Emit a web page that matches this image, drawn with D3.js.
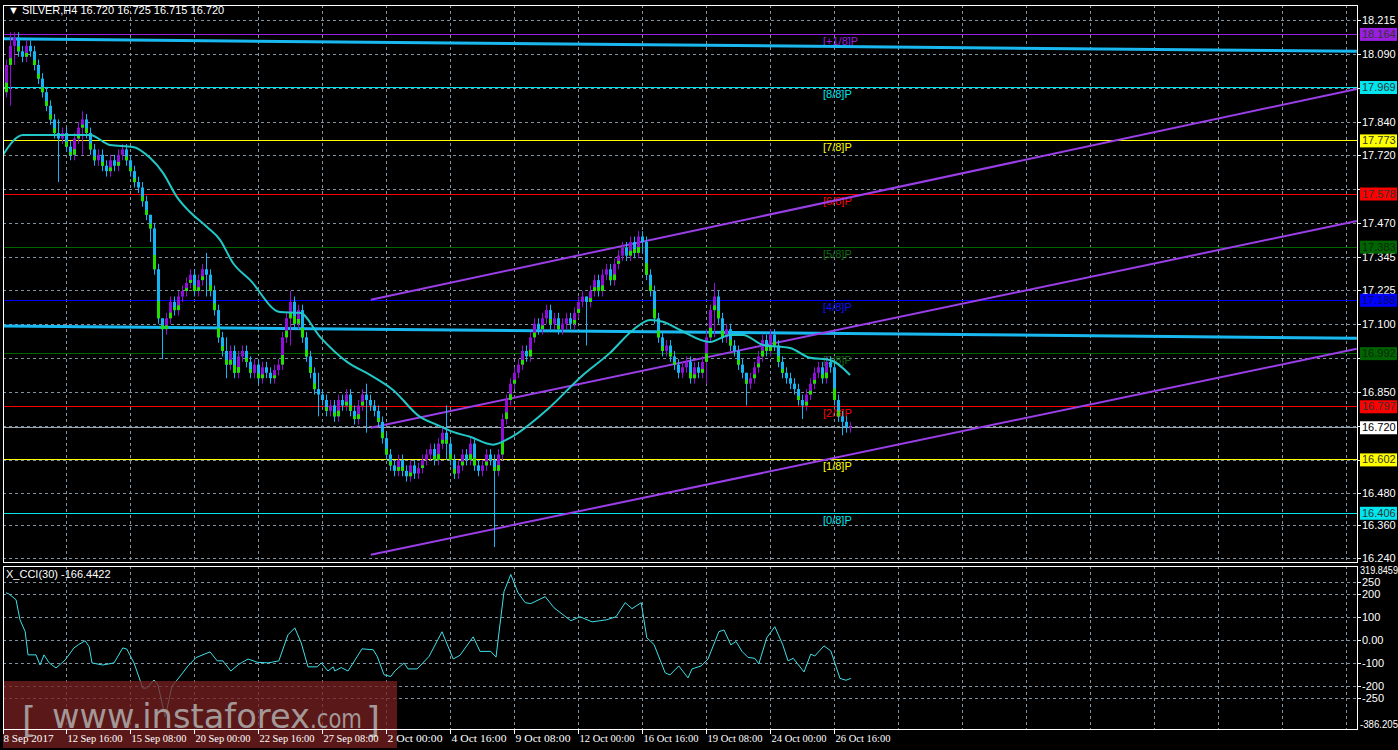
<!DOCTYPE html>
<html><head><meta charset="utf-8">
<script src="https://cdn.jsdelivr.net/npm/d3@7"></script>
<style>body{margin:0;background:#000}svg{display:block}</style>
</head><body>
<script>
// closes per H4 bar (open = previous close)
const closes = [18.05,18.12,18.15,18.10,18.08,18.12,18.10,18.05,18.00,17.95,17.90,
  17.85,17.80,17.78,17.80,
  17.75,17.72,17.78,17.82,17.85,17.80,17.74,17.70,17.72,17.68,
  17.66,17.70,17.68,17.72,17.74,17.70,17.66,17.62,17.60,
  17.55,17.50,17.45,17.30,17.12,17.08,
  17.12,17.18,17.15,17.20,17.22,17.25,17.28,17.22,17.26,
  17.30,17.28,17.22,17.15,17.05,17.00,
  16.95,17.00,16.92,16.98,17.00,16.96,16.92,16.95,16.90,16.94,16.92,16.90,16.93,16.95,
  17.05,17.12,17.18,17.10,17.15,
  17.05,16.98,16.92,16.86,16.84,16.82,
  16.78,16.80,16.76,16.82,16.80,16.84,16.78,16.75,16.80,16.84,16.82,16.80,16.78,16.74,
  16.68,16.62,16.58,16.56,16.60,
  16.56,16.54,16.58,16.55,16.57,16.60,16.62,16.64,16.60,16.66,
  16.70,16.66,16.60,16.55,16.58,
  16.62,16.60,16.66,16.58,16.56,16.58,16.62,16.60,16.56,
  16.62,16.75,16.82,16.88,16.92,16.95,
  17.00,16.98,17.05,17.10,17.08,17.12,17.15,
  17.10,17.12,17.08,17.10,17.12,17.10,17.14,17.18,17.20,
  17.18,17.22,17.26,17.22,17.28,17.30,17.26,17.32,17.35,17.38,
  17.35,17.40,17.36,17.42,17.40,
  17.28,17.22,17.12,17.05,17.00,17.02,
  16.98,16.95,16.92,16.94,16.96,16.90,16.94,16.92,16.96,
  17.05,17.15,17.20,17.12,17.05,17.08,
  17.02,17.00,16.95,16.92,16.88,16.90,
  16.94,16.98,17.04,17.00,17.06,17.02,16.96,
  16.92,16.90,16.88,16.86,16.82,16.80,16.84,
  16.88,16.92,16.94,16.90,16.96,16.94,
  16.82,16.76,16.74,16.72,16.72];
const firstOpen = 17.95;
// notable long wicks [bar, high, low]
const wicks = [[1,18.17,17.90],[2,18.17,18.05],[13,17.85,17.62],[19,17.88,17.72],[36,17.50,17.40],
  [39,17.12,16.97],[50,17.36,17.20],[55,17.05,16.90],[71,17.22,17.02],[78,16.92,16.76],
  [90,16.88,16.70],[110,16.80,16.60],[122,16.62,16.28],[145,17.20,17.02],[159,17.44,17.36],
  [175,17.08,16.88],[177,17.25,17.05],[185,16.92,16.80],[199,16.84,16.75],[209,16.78,16.69]];

// moving average, [bar, price]
const maPoints = [[-0.75,17.720],[4.25,17.793],[21,17.793],[26,17.756],[31.75,17.749],[36,17.709],
  [39.25,17.654],[42.75,17.565],[46,17.510],[50.25,17.455],[53.5,17.408],[56.75,17.323],[61,17.261],
  [68.5,17.143],[73.5,17.140],[78.5,17.052],[85.25,16.960],[91,16.912],[96.75,16.857],[103.5,16.758],
  [107.75,16.729],[111.75,16.703],[116,16.685],[121.75,16.656],[126,16.681],[135.25,16.784],
  [144.25,16.912],[151,16.993],[156.75,17.077],[161,17.114],[164.25,17.107],[168.5,17.077],
  [176,17.033],[181,17.059],[184.25,17.059],[189.25,17.022],[196,17.011],[201,16.975],[206,16.967],[211,16.912]];

// CCI(30), [bar, value]
const cciPoints = [[0,204],[0.8,198],[2.5,174],[3.5,87],[4.8,35],[5.5,-65],[7.5,-65],[8.5,-109],[9.5,-65],
  [10.8,-100],[12.5,-122],[14.8,-87],[17,-35],[18.2,-20],[19.8,-4],[20.8,-30],[21.5,-100],[24.2,-109],
  [27,-100],[29.2,-35],[30.2,-40],[32,-100],[34.2,-209],[35.2,-209],[37,-174],[38,-196],[39.8,-335],
  [41.5,-200],[43.2,-165],[45.5,-113],[47.5,-77],[51,-52],[52.8,-91],[54.2,-91],[56.2,-135],[58.2,-106],
  [60.5,-83],[62.8,-97],[65.5,-100],[68.2,-91],[70.5,22],[72.2,52],[73.8,-13],[75.5,-117],[77.8,-117],
  [78.8,-100],[80.5,-135],[81.8,-117],[82.2,-135],[83.8,-120],[85.5,-135],[86.8,-100],[89,-39],[91.8,-43],
  [92.8,-71],[94.5,-151],[96.2,-159],[97.2,-135],[99.5,-100],[100.5,-126],[102.8,-126],[105.8,-71],
  [109,35],[111.8,-83],[113.5,-67],[116.8,13],[118.5,-50],[121.2,-50],[122.5,-75],[124.5,209],[126.2,283],
  [128,204],[129.8,161],[131.2,157],[134.8,187],[137,139],[141.2,83],[143.5,100],[146.5,78],[150.2,87],
  [152.5,100],[154.8,161],[156.5,135],[158.8,161],[160.2,9],[162,-20],[164.8,-143],[166,-152],[168.2,-113],
  [170.5,-165],[171.5,-126],[173.8,-113],[175.5,-83],[178.2,35],[179.5,43],[181.2,-22],[182.5,-7],[184,-50],
  [185.5,-76],[187.2,-80],[188.2,-104],[190.2,9],[192.2,57],[194.2,-22],[195.5,-91],[196.8,-80],[199.5,-139],
  [201.2,-62],[202.2,-70],[204.5,-26],[206.2,-48],[208.5,-167],[210,-175],[211.2,-167]];

const murreyNames = ["[+1/8]P","[8/8]P","[7/8]P","[6/8]P","[5/8]P","[4/8]P","[3/8]P","[2/8]P","[1/8]P","[0/8]P"];
const murreyVals = [18.164,17.969,17.773,17.578,17.383,17.188,16.992,16.797,16.602,16.406];
const murreyColors = ["#9a1ee0","#00e5ee","#ffff00","#ff0000","#006400","#0000ff","#006400","#ff0000","#ffff00","#00e5ee"];
const murreyText = ["#9a1ee0","#00e5ee","#ffff00","#ff0000","#0c6a0c","#1010ff","#0c6a0c","#ff0000","#ffff00","#00e5ee"];

const priceTicks = [18.215,18.090,17.965,17.840,17.720,17.595,17.470,17.345,17.225,17.100,16.975,16.850,16.725,16.600,16.480,16.360,16.240];
const priceTickLabels = ["18.215","18.090","","17.840","17.720","","17.470","17.345","17.225","17.100","","16.850","","","16.480","16.360","16.240"];
const cciTicks = [250,200,100,0,-100,-200,-250];
const cciTickLabels = ["250","200","100","0.00","-100","-200","-250"];

const timeBars = [0,15,31,47,63,79,95,111,127,143,159,175,191,207];
const timeLabels = ["8 Sep 2017","12 Sep 16:00","15 Sep 08:00","20 Sep 00:00","22 Sep 16:00","27 Sep 08:00","2 Oct 00:00","4 Oct 16:00","9 Oct 08:00","12 Oct 00:00","16 Oct 16:00","19 Oct 08:00","24 Oct 00:00","26 Oct 16:00"];

// two-point lines [bar0, price0, bar1, price1]
const thickLines = [[-1,18.146,337.7,18.100],[-1,17.092,337.7,17.047]];
const channel = [[91.2,17.188,337.7,17.962],[91.2,16.718,337.7,17.477],[91.2,16.252,337.7,17.008]];

const L = 3, R = 1357, T = 5, B = 562, CT = 566, CB = 729;
const svg = d3.select("body").append("svg").attr("width",1398).attr("height",750)
  .style("font-family","'Liberation Sans',sans-serif");
svg.append("rect").attr("width",1398).attr("height",750).attr("fill","#000");

const x = d3.scaleLinear().domain([0, 337.75]).range([6, R]);
const y = d3.scaleLinear().domain([16.240, 18.215]).range([558, 20]);
const yc = d3.scaleLinear().domain([-386.205, 319.8459]).range([CB, CT]);

svg.append("clipPath").attr("id","cm").append("rect").attr("x",L).attr("y",T).attr("width",R-L).attr("height",B-T);
const grid = "#8091a0";

// grid
const vg = d3.range(15, 338, 16);
[[T,B],[CT,CB]].forEach(([a,b]) => {
  svg.append("g").selectAll("line").data(vg).join("line")
    .attr("x1",d=>x(d)+.5).attr("x2",d=>x(d)+.5).attr("y1",a).attr("y2",b)
    .attr("stroke",grid).attr("stroke-dasharray","3,3");
});
svg.append("g").selectAll("line").data(priceTicks).join("line")
  .attr("x1",L).attr("x2",R).attr("y1",d=>Math.round(y(d))+.5).attr("y2",d=>Math.round(y(d))+.5)
  .attr("stroke",grid).attr("stroke-dasharray","3,3");
svg.append("g").selectAll("line").data(cciTicks).join("line")
  .attr("x1",L).attr("x2",R).attr("y1",d=>Math.round(yc(d))+.5).attr("y2",d=>Math.round(yc(d))+.5)
  .attr("stroke",grid).attr("stroke-dasharray","3,3");

const pg = svg.append("g").attr("clip-path","url(#cm)");
// murrey levels
pg.selectAll("line.m").data(murreyVals).join("line")
  .attr("x1",L).attr("x2",R).attr("y1",d=>Math.round(y(d))+.5).attr("y2",d=>Math.round(y(d))+.5)
  .attr("stroke",(d,i)=>murreyColors[i]);
pg.selectAll("text.m").data(murreyVals).join("text")
  .attr("x",823).attr("y",d=>y(d)+11).attr("font-size",11)
  .attr("fill",(d,i)=>murreyText[i]).text((d,i)=>murreyNames[i]);
// current price line
pg.append("line").attr("x1",L).attr("x2",R).attr("y1",Math.round(y(16.720))+.5).attr("y2",Math.round(y(16.720))+.5).attr("stroke","#9aa4ad");

pg.selectAll("line.t").data(thickLines).join("line")
  .attr("x1",d=>x(d[0])).attr("y1",d=>y(d[1])).attr("x2",d=>x(d[2])).attr("y2",d=>y(d[3]))
  .attr("stroke","#1ab8f0").attr("stroke-width",3);
pg.selectAll("line.c").data(channel).join("line")
  .attr("x1",d=>x(d[0])).attr("y1",d=>y(d[1])).attr("x2",d=>x(d[2])).attr("y2",d=>y(d[3]))
  .attr("stroke","#9a3ee8").attr("stroke-width",2);

// candles
const bars = closes.map((c,i) => {
  const o = i ? closes[i-1] : firstOpen;
  const w = wicks.find(k => k[0] === i);
  return {i, o, c, h: w ? w[1] : Math.max(o,c) + 0.02, l: w ? w[2] : Math.min(o,c) - 0.02};
});
const col = d => d.c >= d.o ? "#9010d8" : "#14b4f5";
pg.selectAll("line.w").data(bars).join("line")
  .attr("x1",d=>Math.round(x(d.i))+.5).attr("x2",d=>Math.round(x(d.i))+.5)
  .attr("y1",d=>y(d.h)).attr("y2",d=>y(d.l)).attr("stroke",col);
pg.selectAll("rect.b").data(bars).join("rect")
  .attr("x",d=>Math.round(x(d.i))-1).attr("width",3)
  .attr("y",d=>y(Math.max(d.o,d.c))).attr("height",d=>Math.max(1,Math.abs(y(d.o)-y(d.c))))
  .attr("fill",col);
// green lower part of bodies
pg.selectAll("rect.g").data(bars.filter(d => Math.abs(d.c-d.o) > 0.03)).join("rect")
  .attr("x",d=>Math.round(x(d.i))-1).attr("width",3)
  .attr("y",d=>y(Math.min(d.o,d.c)) - Math.abs(y(d.o)-y(d.c))*0.35).attr("height",d=>Math.abs(y(d.o)-y(d.c))*0.35)
  .attr("fill","#22e000");

// moving average
pg.append("path").datum(maPoints)
  .attr("d", d3.line().x(d=>x(d[0])).y(d=>y(d[1])).curve(d3.curveMonotoneX))
  .attr("fill","none").attr("stroke","#22c8c8").attr("stroke-width",2);

// CCI
svg.append("path").datum(cciPoints)
  .attr("d", d3.line().x(d=>x(d[0])).y(d=>yc(d[1])))
  .attr("fill","none").attr("stroke","#3ee0e8").attr("stroke-width",1);

// watermark
svg.append("rect").attr("x",3).attr("y",681).attr("width",394).attr("height",67).attr("fill","#7a2020").attr("opacity",0.75);
const wm = svg.append("g").attr("fill","#a39898").attr("font-family","'DejaVu Sans',sans-serif");
wm.append("text").attr("x",22).attr("y",732).attr("font-size",36).text("[");
wm.append("text").attr("x",52).attr("y",728).attr("font-size",34).attr("textLength",258).attr("lengthAdjust","spacingAndGlyphs").text("www.instaforex");
wm.append("text").attr("x",310).attr("y",728).attr("font-size",26).attr("textLength",52).attr("lengthAdjust","spacingAndGlyphs").text(".com");
wm.append("text").attr("x",366).attr("y",732).attr("font-size",36).text("]");

// frames
svg.append("rect").attr("x",L+.5).attr("y",T+.5).attr("width",R-L).attr("height",B-T).attr("fill","none").attr("stroke","#fff");
svg.append("rect").attr("x",L+.5).attr("y",CT+.5).attr("width",R-L).attr("height",CB-CT).attr("fill","none").attr("stroke","#fff");

// right axes
const ax = svg.append("g").attr("font-size",11).attr("fill","#fff");
priceTicks.forEach((v,i) => {
  ax.append("line").attr("x1",R).attr("x2",R+4).attr("y1",Math.round(y(v))+.5).attr("y2",Math.round(y(v))+.5).attr("stroke","#fff");
  if (priceTickLabels[i]) ax.append("text").attr("x",R+5).attr("y",y(v)+4).text(priceTickLabels[i]);
});
ax.append("text").attr("x",R+3).attr("y",yc(319.8459)+8).attr("font-size",10).attr("textLength",38).attr("lengthAdjust","spacingAndGlyphs").text("319.8459");
ax.append("text").attr("x",R+3).attr("y",yc(-386.205)-1).attr("font-size",10).attr("textLength",38).attr("lengthAdjust","spacingAndGlyphs").text("-386.205");
cciTicks.forEach((v,i) => {
  ax.append("line").attr("x1",R).attr("x2",R+4).attr("y1",Math.round(yc(v))+.5).attr("y2",Math.round(yc(v))+.5).attr("stroke","#fff");
  ax.append("text").attr("x",R+5).attr("y",yc(v)+4).text(cciTickLabels[i]);
});
// value boxes
const boxVals = murreyVals.concat([16.720]);
const boxCols = murreyColors.concat(["#ffffff"]);
const boxText = ["#333","#333","#333","#333","#0a2a0a","#0a0a60","#0a2a0a","#333","#333","#333","#000"];
boxVals.forEach((v,i) => {
  ax.append("rect").attr("x",R+3).attr("y",y(v)-6).attr("width",37).attr("height",13).attr("fill",boxCols[i]);
  ax.append("text").attr("x",R+5).attr("y",y(v)+4).attr("fill",boxText[i]).text(v.toFixed(3));
});

// time axis
const tx = svg.append("g").attr("font-size",11).attr("fill","#fff").attr("font-family","'Liberation Serif',serif");
timeBars.forEach((b,i) => {
  const px = i ? Math.round(x(b))+.5 : 3.5;
  tx.append("line").attr("x1",px).attr("x2",px).attr("y1",CB).attr("y2",CB+5).attr("stroke","#fff");
  tx.append("text").attr("x",px+(i?1:0)).attr("y",742).attr("textLength",i?55:50).attr("lengthAdjust","spacingAndGlyphs").text(timeLabels[i]);
});

// titles
svg.append("text").attr("x",8).attr("y",14).attr("fill","#fff").attr("font-size",11).text("\u25BC SILVER,H4  16.720 16.725 16.715 16.720");
svg.append("text").attr("x",6).attr("y",578).attr("fill","#fff").attr("font-size",11).text("X_CCI(30) -166.4422");
</script>
</body></html>
